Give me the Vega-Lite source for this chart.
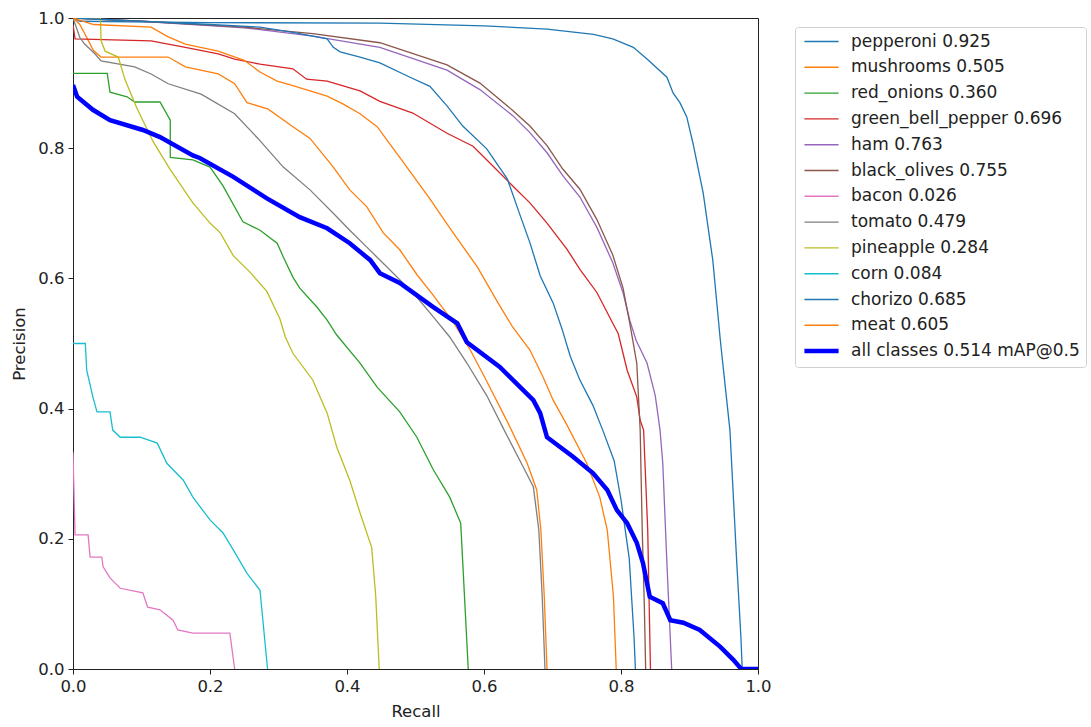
{
  "$schema": "https://vega.github.io/schema/vega-lite/v6.json",
  "width": 685,
  "height": 651,
  "autosize": {"type": "none"},
  "padding": {"left": 73, "top": 18, "right": 333, "bottom": 58},
  "background": "white",
  "config": {
    "view": {"stroke": "#222", "strokeWidth": 1},
    "font": "DejaVu Sans",
    "axis": {"labelFont": "DejaVu Sans", "titleFont": "DejaVu Sans", "labelFontSize": 16.5, "titleFontSize": 16.5, "titleFontWeight": "normal", "labelColor": "#222", "titleColor": "#222", "tickColor": "#222", "domainColor": "#222", "grid": false, "tickSize": 5, "labelFlush": false}
  },
  "datasets": {
    "pr": [
      {"c":"pepperoni 0.925","r":0,"p":1.0},{"c":"pepperoni 0.925","r":0.01,"p":0.995},{"c":"pepperoni 0.925","r":0.2,"p":0.993},{"c":"pepperoni 0.925","r":0.448,"p":0.992},{"c":"pepperoni 0.925","r":0.6,"p":0.988},{"c":"pepperoni 0.925","r":0.692,"p":0.983},{"c":"pepperoni 0.925","r":0.76,"p":0.975},{"c":"pepperoni 0.925","r":0.788,"p":0.968},{"c":"pepperoni 0.925","r":0.818,"p":0.955},{"c":"pepperoni 0.925","r":0.838,"p":0.937},{"c":"pepperoni 0.925","r":0.867,"p":0.909},{"c":"pepperoni 0.925","r":0.876,"p":0.885},{"c":"pepperoni 0.925","r":0.886,"p":0.87},{"c":"pepperoni 0.925","r":0.896,"p":0.848},{"c":"pepperoni 0.925","r":0.905,"p":0.808},{"c":"pepperoni 0.925","r":0.92,"p":0.731},{"c":"pepperoni 0.925","r":0.934,"p":0.628},{"c":"pepperoni 0.925","r":0.945,"p":0.505},{"c":"pepperoni 0.925","r":0.959,"p":0.367},{"c":"pepperoni 0.925","r":0.969,"p":0.163},{"c":"pepperoni 0.925","r":0.975,"p":0.05},{"c":"pepperoni 0.925","r":0.977,"p":0},

      {"c":"mushrooms 0.505","r":0,"p":1.0},{"c":"mushrooms 0.505","r":0.01,"p":0.99},{"c":"mushrooms 0.505","r":0.03,"p":0.95},{"c":"mushrooms 0.505","r":0.041,"p":0.94},{"c":"mushrooms 0.505","r":0.139,"p":0.94},{"c":"mushrooms 0.505","r":0.164,"p":0.925},{"c":"mushrooms 0.505","r":0.212,"p":0.914},{"c":"mushrooms 0.505","r":0.236,"p":0.899},{"c":"mushrooms 0.505","r":0.254,"p":0.87},{"c":"mushrooms 0.505","r":0.285,"p":0.86},{"c":"mushrooms 0.505","r":0.321,"p":0.833},{"c":"mushrooms 0.505","r":0.346,"p":0.815},{"c":"mushrooms 0.505","r":0.38,"p":0.771},{"c":"mushrooms 0.505","r":0.404,"p":0.736},{"c":"mushrooms 0.505","r":0.429,"p":0.71},{"c":"mushrooms 0.505","r":0.453,"p":0.67},{"c":"mushrooms 0.505","r":0.477,"p":0.644},{"c":"mushrooms 0.505","r":0.502,"p":0.606},{"c":"mushrooms 0.505","r":0.526,"p":0.574},{"c":"mushrooms 0.505","r":0.555,"p":0.533},{"c":"mushrooms 0.505","r":0.58,"p":0.49},{"c":"mushrooms 0.505","r":0.604,"p":0.442},{"c":"mushrooms 0.505","r":0.634,"p":0.38},{"c":"mushrooms 0.505","r":0.65,"p":0.345},{"c":"mushrooms 0.505","r":0.663,"p":0.316},{"c":"mushrooms 0.505","r":0.677,"p":0.275},{"c":"mushrooms 0.505","r":0.683,"p":0.214},{"c":"mushrooms 0.505","r":0.688,"p":0.111},{"c":"mushrooms 0.505","r":0.692,"p":0},

      {"c":"red_onions 0.360","r":0,"p":0.915},{"c":"red_onions 0.360","r":0.05,"p":0.915},{"c":"red_onions 0.360","r":0.054,"p":0.886},{"c":"red_onions 0.360","r":0.079,"p":0.879},{"c":"red_onions 0.360","r":0.09,"p":0.871},{"c":"red_onions 0.360","r":0.127,"p":0.871},{"c":"red_onions 0.360","r":0.142,"p":0.843},{"c":"red_onions 0.360","r":0.142,"p":0.786},{"c":"red_onions 0.360","r":0.175,"p":0.782},{"c":"red_onions 0.360","r":0.2,"p":0.771},{"c":"red_onions 0.360","r":0.219,"p":0.742},{"c":"red_onions 0.360","r":0.248,"p":0.687},{"c":"red_onions 0.360","r":0.273,"p":0.674},{"c":"red_onions 0.360","r":0.298,"p":0.654},{"c":"red_onions 0.360","r":0.307,"p":0.633},{"c":"red_onions 0.360","r":0.321,"p":0.602},{"c":"red_onions 0.360","r":0.331,"p":0.585},{"c":"red_onions 0.360","r":0.356,"p":0.556},{"c":"red_onions 0.360","r":0.371,"p":0.536},{"c":"red_onions 0.360","r":0.385,"p":0.513},{"c":"red_onions 0.360","r":0.419,"p":0.47},{"c":"red_onions 0.360","r":0.444,"p":0.433},{"c":"red_onions 0.360","r":0.477,"p":0.395},{"c":"red_onions 0.360","r":0.502,"p":0.356},{"c":"red_onions 0.360","r":0.526,"p":0.306},{"c":"red_onions 0.360","r":0.55,"p":0.264},{"c":"red_onions 0.360","r":0.566,"p":0.224},{"c":"red_onions 0.360","r":0.569,"p":0.163},{"c":"red_onions 0.360","r":0.577,"p":0},

      {"c":"green_bell_pepper 0.696","r":0,"p":0.99},{"c":"green_bell_pepper 0.696","r":0.003,"p":0.968},{"c":"green_bell_pepper 0.696","r":0.114,"p":0.965},{"c":"green_bell_pepper 0.696","r":0.139,"p":0.96},{"c":"green_bell_pepper 0.696","r":0.164,"p":0.955},{"c":"green_bell_pepper 0.696","r":0.212,"p":0.945},{"c":"green_bell_pepper 0.696","r":0.236,"p":0.937},{"c":"green_bell_pepper 0.696","r":0.273,"p":0.929},{"c":"green_bell_pepper 0.696","r":0.321,"p":0.922},{"c":"green_bell_pepper 0.696","r":0.341,"p":0.906},{"c":"green_bell_pepper 0.696","r":0.371,"p":0.903},{"c":"green_bell_pepper 0.696","r":0.419,"p":0.888},{"c":"green_bell_pepper 0.696","r":0.448,"p":0.872},{"c":"green_bell_pepper 0.696","r":0.496,"p":0.854},{"c":"green_bell_pepper 0.696","r":0.546,"p":0.823},{"c":"green_bell_pepper 0.696","r":0.584,"p":0.803},{"c":"green_bell_pepper 0.696","r":0.609,"p":0.777},{"c":"green_bell_pepper 0.696","r":0.642,"p":0.742},{"c":"green_bell_pepper 0.696","r":0.667,"p":0.716},{"c":"green_bell_pepper 0.696","r":0.692,"p":0.685},{"c":"green_bell_pepper 0.696","r":0.721,"p":0.645},{"c":"green_bell_pepper 0.696","r":0.74,"p":0.614},{"c":"green_bell_pepper 0.696","r":0.765,"p":0.578},{"c":"green_bell_pepper 0.696","r":0.788,"p":0.531},{"c":"green_bell_pepper 0.696","r":0.796,"p":0.515},{"c":"green_bell_pepper 0.696","r":0.809,"p":0.459},{"c":"green_bell_pepper 0.696","r":0.823,"p":0.418},{"c":"green_bell_pepper 0.696","r":0.828,"p":0.382},{"c":"green_bell_pepper 0.696","r":0.833,"p":0.367},{"c":"green_bell_pepper 0.696","r":0.839,"p":0.214},{"c":"green_bell_pepper 0.696","r":0.843,"p":0},

      {"c":"ham 0.763","r":0,"p":1.0},{"c":"ham 0.763","r":0.1,"p":0.995},{"c":"ham 0.763","r":0.25,"p":0.985},{"c":"ham 0.763","r":0.35,"p":0.972},{"c":"ham 0.763","r":0.448,"p":0.955},{"c":"ham 0.763","r":0.546,"p":0.92},{"c":"ham 0.763","r":0.594,"p":0.89},{"c":"ham 0.763","r":0.642,"p":0.85},{"c":"ham 0.763","r":0.667,"p":0.824},{"c":"ham 0.763","r":0.692,"p":0.793},{"c":"ham 0.763","r":0.715,"p":0.758},{"c":"ham 0.763","r":0.74,"p":0.725},{"c":"ham 0.763","r":0.765,"p":0.678},{"c":"ham 0.763","r":0.788,"p":0.624},{"c":"ham 0.763","r":0.803,"p":0.578},{"c":"ham 0.763","r":0.813,"p":0.535},{"c":"ham 0.763","r":0.822,"p":0.505},{"c":"ham 0.763","r":0.838,"p":0.47},{"c":"ham 0.763","r":0.85,"p":0.42},{"c":"ham 0.763","r":0.857,"p":0.367},{"c":"ham 0.763","r":0.861,"p":0.316},{"c":"ham 0.763","r":0.867,"p":0.163},{"c":"ham 0.763","r":0.874,"p":0},

      {"c":"black_olives 0.755","r":0,"p":1.0},{"c":"black_olives 0.755","r":0.1,"p":0.995},{"c":"black_olives 0.755","r":0.25,"p":0.986},{"c":"black_olives 0.755","r":0.35,"p":0.976},{"c":"black_olives 0.755","r":0.448,"p":0.962},{"c":"black_olives 0.755","r":0.546,"p":0.928},{"c":"black_olives 0.755","r":0.594,"p":0.9},{"c":"black_olives 0.755","r":0.642,"p":0.858},{"c":"black_olives 0.755","r":0.667,"p":0.834},{"c":"black_olives 0.755","r":0.692,"p":0.804},{"c":"black_olives 0.755","r":0.715,"p":0.768},{"c":"black_olives 0.755","r":0.74,"p":0.737},{"c":"black_olives 0.755","r":0.765,"p":0.69},{"c":"black_olives 0.755","r":0.788,"p":0.636},{"c":"black_olives 0.755","r":0.803,"p":0.585},{"c":"black_olives 0.755","r":0.813,"p":0.53},{"c":"black_olives 0.755","r":0.823,"p":0.47},{"c":"black_olives 0.755","r":0.828,"p":0.367},{"c":"black_olives 0.755","r":0.831,"p":0.213},{"c":"black_olives 0.755","r":0.834,"p":0.1},{"c":"black_olives 0.755","r":0.836,"p":0},

      {"c":"bacon 0.026","r":0,"p":0.333},{"c":"bacon 0.026","r":0.003,"p":0.206},{"c":"bacon 0.026","r":0.022,"p":0.206},{"c":"bacon 0.026","r":0.025,"p":0.172},{"c":"bacon 0.026","r":0.042,"p":0.172},{"c":"bacon 0.026","r":0.044,"p":0.157},{"c":"bacon 0.026","r":0.054,"p":0.14},{"c":"bacon 0.026","r":0.069,"p":0.124},{"c":"bacon 0.026","r":0.102,"p":0.117},{"c":"bacon 0.026","r":0.109,"p":0.095},{"c":"bacon 0.026","r":0.127,"p":0.091},{"c":"bacon 0.026","r":0.146,"p":0.075},{"c":"bacon 0.026","r":0.153,"p":0.06},{"c":"bacon 0.026","r":0.175,"p":0.055},{"c":"bacon 0.026","r":0.229,"p":0.055},{"c":"bacon 0.026","r":0.236,"p":0},

      {"c":"tomato 0.479","r":0,"p":1.0},{"c":"tomato 0.479","r":0.01,"p":0.97},{"c":"tomato 0.479","r":0.017,"p":0.96},{"c":"tomato 0.479","r":0.032,"p":0.945},{"c":"tomato 0.479","r":0.041,"p":0.934},{"c":"tomato 0.479","r":0.09,"p":0.925},{"c":"tomato 0.479","r":0.114,"p":0.914},{"c":"tomato 0.479","r":0.139,"p":0.899},{"c":"tomato 0.479","r":0.187,"p":0.883},{"c":"tomato 0.479","r":0.236,"p":0.853},{"c":"tomato 0.479","r":0.27,"p":0.815},{"c":"tomato 0.479","r":0.307,"p":0.771},{"c":"tomato 0.479","r":0.346,"p":0.736},{"c":"tomato 0.479","r":0.38,"p":0.7},{"c":"tomato 0.479","r":0.404,"p":0.674},{"c":"tomato 0.479","r":0.429,"p":0.648},{"c":"tomato 0.479","r":0.458,"p":0.618},{"c":"tomato 0.479","r":0.477,"p":0.598},{"c":"tomato 0.479","r":0.502,"p":0.571},{"c":"tomato 0.479","r":0.526,"p":0.541},{"c":"tomato 0.479","r":0.55,"p":0.51},{"c":"tomato 0.479","r":0.575,"p":0.47},{"c":"tomato 0.479","r":0.604,"p":0.42},{"c":"tomato 0.479","r":0.628,"p":0.37},{"c":"tomato 0.479","r":0.655,"p":0.315},{"c":"tomato 0.479","r":0.672,"p":0.28},{"c":"tomato 0.479","r":0.68,"p":0.214},{"c":"tomato 0.479","r":0.685,"p":0.111},{"c":"tomato 0.479","r":0.689,"p":0},

      {"c":"pineapple 0.284","r":0,"p":1.0},{"c":"pineapple 0.284","r":0.04,"p":1.0},{"c":"pineapple 0.284","r":0.041,"p":0.965},{"c":"pineapple 0.284","r":0.047,"p":0.949},{"c":"pineapple 0.284","r":0.066,"p":0.94},{"c":"pineapple 0.284","r":0.076,"p":0.905},{"c":"pineapple 0.284","r":0.093,"p":0.862},{"c":"pineapple 0.284","r":0.117,"p":0.81},{"c":"pineapple 0.284","r":0.142,"p":0.767},{"c":"pineapple 0.284","r":0.175,"p":0.716},{"c":"pineapple 0.284","r":0.2,"p":0.685},{"c":"pineapple 0.284","r":0.215,"p":0.67},{"c":"pineapple 0.284","r":0.234,"p":0.635},{"c":"pineapple 0.284","r":0.258,"p":0.61},{"c":"pineapple 0.284","r":0.283,"p":0.58},{"c":"pineapple 0.284","r":0.302,"p":0.538},{"c":"pineapple 0.284","r":0.31,"p":0.51},{"c":"pineapple 0.284","r":0.321,"p":0.485},{"c":"pineapple 0.284","r":0.35,"p":0.444},{"c":"pineapple 0.284","r":0.371,"p":0.393},{"c":"pineapple 0.284","r":0.385,"p":0.341},{"c":"pineapple 0.284","r":0.404,"p":0.29},{"c":"pineapple 0.284","r":0.419,"p":0.24},{"c":"pineapple 0.284","r":0.436,"p":0.187},{"c":"pineapple 0.284","r":0.442,"p":0.111},{"c":"pineapple 0.284","r":0.447,"p":0},

      {"c":"corn 0.084","r":0,"p":0.5},{"c":"corn 0.084","r":0.018,"p":0.5},{"c":"corn 0.084","r":0.02,"p":0.459},{"c":"corn 0.084","r":0.029,"p":0.418},{"c":"corn 0.084","r":0.035,"p":0.395},{"c":"corn 0.084","r":0.054,"p":0.395},{"c":"corn 0.084","r":0.058,"p":0.367},{"c":"corn 0.084","r":0.069,"p":0.356},{"c":"corn 0.084","r":0.098,"p":0.356},{"c":"corn 0.084","r":0.123,"p":0.347},{"c":"corn 0.084","r":0.137,"p":0.316},{"c":"corn 0.084","r":0.161,"p":0.29},{"c":"corn 0.084","r":0.175,"p":0.264},{"c":"corn 0.084","r":0.2,"p":0.229},{"c":"corn 0.084","r":0.219,"p":0.209},{"c":"corn 0.084","r":0.234,"p":0.183},{"c":"corn 0.084","r":0.254,"p":0.147},{"c":"corn 0.084","r":0.273,"p":0.121},{"c":"corn 0.084","r":0.284,"p":0},

      {"c":"chorizo 0.685","r":0,"p":1.0},{"c":"chorizo 0.685","r":0.1,"p":0.995},{"c":"chorizo 0.685","r":0.2,"p":0.99},{"c":"chorizo 0.685","r":0.273,"p":0.986},{"c":"chorizo 0.685","r":0.321,"p":0.978},{"c":"chorizo 0.685","r":0.371,"p":0.968},{"c":"chorizo 0.685","r":0.38,"p":0.955},{"c":"chorizo 0.685","r":0.39,"p":0.948},{"c":"chorizo 0.685","r":0.419,"p":0.94},{"c":"chorizo 0.685","r":0.448,"p":0.931},{"c":"chorizo 0.685","r":0.492,"p":0.909},{"c":"chorizo 0.685","r":0.521,"p":0.895},{"c":"chorizo 0.685","r":0.546,"p":0.865},{"c":"chorizo 0.685","r":0.569,"p":0.834},{"c":"chorizo 0.685","r":0.604,"p":0.799},{"c":"chorizo 0.685","r":0.634,"p":0.753},{"c":"chorizo 0.685","r":0.653,"p":0.696},{"c":"chorizo 0.685","r":0.667,"p":0.655},{"c":"chorizo 0.685","r":0.682,"p":0.604},{"c":"chorizo 0.685","r":0.701,"p":0.562},{"c":"chorizo 0.685","r":0.714,"p":0.522},{"c":"chorizo 0.685","r":0.726,"p":0.48},{"c":"chorizo 0.685","r":0.74,"p":0.444},{"c":"chorizo 0.685","r":0.759,"p":0.405},{"c":"chorizo 0.685","r":0.774,"p":0.365},{"c":"chorizo 0.685","r":0.79,"p":0.32},{"c":"chorizo 0.685","r":0.8,"p":0.26},{"c":"chorizo 0.685","r":0.812,"p":0.17},{"c":"chorizo 0.685","r":0.819,"p":0.05},{"c":"chorizo 0.685","r":0.821,"p":0},

      {"c":"meat 0.605","r":0,"p":1.0},{"c":"meat 0.605","r":0.03,"p":0.99},{"c":"meat 0.605","r":0.114,"p":0.986},{"c":"meat 0.605","r":0.139,"p":0.971},{"c":"meat 0.605","r":0.164,"p":0.96},{"c":"meat 0.605","r":0.212,"p":0.949},{"c":"meat 0.605","r":0.25,"p":0.935},{"c":"meat 0.605","r":0.273,"p":0.917},{"c":"meat 0.605","r":0.298,"p":0.903},{"c":"meat 0.605","r":0.321,"p":0.896},{"c":"meat 0.605","r":0.371,"p":0.88},{"c":"meat 0.605","r":0.394,"p":0.868},{"c":"meat 0.605","r":0.419,"p":0.853},{"c":"meat 0.605","r":0.444,"p":0.833},{"c":"meat 0.605","r":0.463,"p":0.806},{"c":"meat 0.605","r":0.477,"p":0.786},{"c":"meat 0.605","r":0.521,"p":0.722},{"c":"meat 0.605","r":0.555,"p":0.67},{"c":"meat 0.605","r":0.59,"p":0.618},{"c":"meat 0.605","r":0.619,"p":0.565},{"c":"meat 0.605","r":0.642,"p":0.525},{"c":"meat 0.605","r":0.667,"p":0.49},{"c":"meat 0.605","r":0.686,"p":0.449},{"c":"meat 0.605","r":0.701,"p":0.413},{"c":"meat 0.605","r":0.721,"p":0.375},{"c":"meat 0.605","r":0.75,"p":0.316},{"c":"meat 0.605","r":0.769,"p":0.264},{"c":"meat 0.605","r":0.78,"p":0.213},{"c":"meat 0.605","r":0.789,"p":0.111},{"c":"meat 0.605","r":0.793,"p":0},

      {"c":"all classes 0.514 mAP@0.5","r":0,"p":0.897},{"c":"all classes 0.514 mAP@0.5","r":0.006,"p":0.879},{"c":"all classes 0.514 mAP@0.5","r":0.029,"p":0.859},{"c":"all classes 0.514 mAP@0.5","r":0.054,"p":0.843},{"c":"all classes 0.514 mAP@0.5","r":0.102,"p":0.828},{"c":"all classes 0.514 mAP@0.5","r":0.127,"p":0.817},{"c":"all classes 0.514 mAP@0.5","r":0.175,"p":0.789},{"c":"all classes 0.514 mAP@0.5","r":0.185,"p":0.785},{"c":"all classes 0.514 mAP@0.5","r":0.234,"p":0.756},{"c":"all classes 0.514 mAP@0.5","r":0.283,"p":0.723},{"c":"all classes 0.514 mAP@0.5","r":0.331,"p":0.694},{"c":"all classes 0.514 mAP@0.5","r":0.371,"p":0.677},{"c":"all classes 0.514 mAP@0.5","r":0.404,"p":0.654},{"c":"all classes 0.514 mAP@0.5","r":0.434,"p":0.628},{"c":"all classes 0.514 mAP@0.5","r":0.448,"p":0.608},{"c":"all classes 0.514 mAP@0.5","r":0.477,"p":0.593},{"c":"all classes 0.514 mAP@0.5","r":0.526,"p":0.556},{"c":"all classes 0.514 mAP@0.5","r":0.561,"p":0.531},{"c":"all classes 0.514 mAP@0.5","r":0.575,"p":0.502},{"c":"all classes 0.514 mAP@0.5","r":0.623,"p":0.464},{"c":"all classes 0.514 mAP@0.5","r":0.672,"p":0.413},{"c":"all classes 0.514 mAP@0.5","r":0.682,"p":0.393},{"c":"all classes 0.514 mAP@0.5","r":0.692,"p":0.356},{"c":"all classes 0.514 mAP@0.5","r":0.73,"p":0.326},{"c":"all classes 0.514 mAP@0.5","r":0.759,"p":0.301},{"c":"all classes 0.514 mAP@0.5","r":0.78,"p":0.275},{"c":"all classes 0.514 mAP@0.5","r":0.794,"p":0.244},{"c":"all classes 0.514 mAP@0.5","r":0.809,"p":0.224},{"c":"all classes 0.514 mAP@0.5","r":0.823,"p":0.194},{"c":"all classes 0.514 mAP@0.5","r":0.832,"p":0.163},{"c":"all classes 0.514 mAP@0.5","r":0.842,"p":0.111},{"c":"all classes 0.514 mAP@0.5","r":0.861,"p":0.101},{"c":"all classes 0.514 mAP@0.5","r":0.872,"p":0.075},{"c":"all classes 0.514 mAP@0.5","r":0.891,"p":0.071},{"c":"all classes 0.514 mAP@0.5","r":0.915,"p":0.06},{"c":"all classes 0.514 mAP@0.5","r":0.945,"p":0.034},{"c":"all classes 0.514 mAP@0.5","r":0.964,"p":0.014},{"c":"all classes 0.514 mAP@0.5","r":0.974,"p":0.002},{"c":"all classes 0.514 mAP@0.5","r":0.975,"p":0},{"c":"all classes 0.514 mAP@0.5","r":1.0,"p":0}
    ]
  },
  "data": {"name": "pr"},
  "encoding": {
    "x": {"field": "r", "type": "quantitative", "title": "Recall",
      "scale": {"domain": [0, 1], "nice": false, "zero": false},
      "axis": {"values": [0, 0.2, 0.4, 0.6, 0.8, 1.0], "format": ".1f", "labelPadding": 4, "titlePadding": 9}},
    "y": {"field": "p", "type": "quantitative", "title": "Precision",
      "scale": {"domain": [0, 1], "nice": false, "zero": false},
      "axis": {"values": [0, 0.2, 0.4, 0.6, 0.8, 1.0], "format": ".1f", "labelPadding": 4, "titlePadding": 10}},
    "color": {"field": "c", "type": "nominal", "title": null,
      "scale": {
        "domain": ["pepperoni 0.925","mushrooms 0.505","red_onions 0.360","green_bell_pepper 0.696","ham 0.763","black_olives 0.755","bacon 0.026","tomato 0.479","pineapple 0.284","corn 0.084","chorizo 0.685","meat 0.605","all classes 0.514 mAP@0.5"],
        "range": ["#1f77b4","#ff7f0e","#2ca02c","#d62728","#9467bd","#8c564b","#e377c2","#7f7f7f","#bcbd22","#17becf","#1f77b4","#ff7f0e","#0000ff"]
      },
      "legend": {
        "orient": "none", "legendX": 722, "legendY": 9,
        "symbolType": "M-1.8,0H1.8", "symbolSize": 361, "rowPadding": 7.8, "symbolOffset": 12,
        "labelFont": "DejaVu Sans", "labelFontSize": 17, "labelColor": "#222", "labelOffset": 21, "labelLimit": 400,
        "padding": 6, "strokeColor": "#d0d0d0", "fillColor": "white", "cornerRadius": 3,
        "encode": {"symbols": {"update": {"strokeWidth": {"signal": "datum.value === 'all classes 0.514 mAP@0.5' ? 4.5 : 1.4"}}}}
      }
    }
  },
  "layer": [
    {"transform": [{"filter": "datum.c !== 'all classes 0.514 mAP@0.5'"}], "mark": {"type": "line", "clip": true, "strokeWidth": 1.3}},
    {"transform": [{"filter": "datum.c === 'all classes 0.514 mAP@0.5'"}], "mark": {"type": "line", "clip": true, "strokeWidth": 4.5}}
  ]
}
